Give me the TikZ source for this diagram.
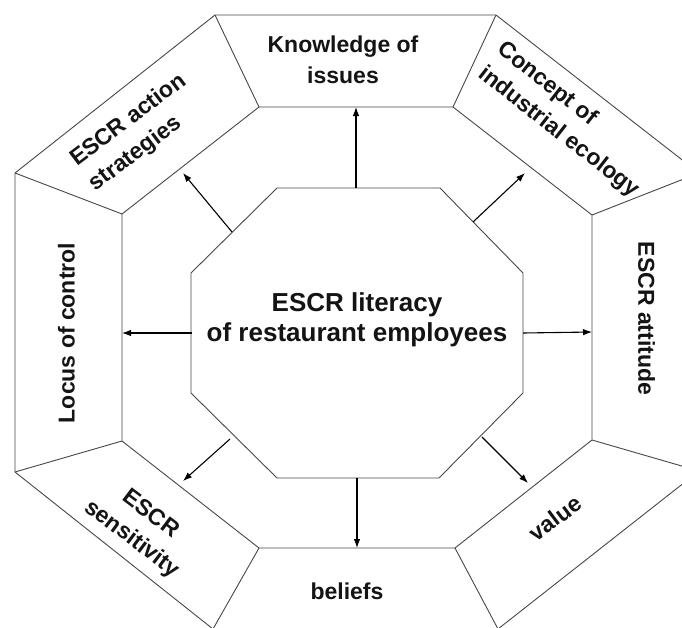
\documentclass[tikz,border=0pt]{standalone}
\usepackage{fontspec}
\setmainfont{Liberation Sans}
\usetikzlibrary{arrows.meta}
\begin{document}
\begin{tikzpicture}[x=1pt,y=-1pt,
  frame/.style={draw=black!72, line width=0.9pt, line join=round},
  conn/.style={draw=black, line width=1.1pt, -{Latex[length=9pt,width=6.5pt]}},
  lbl/.style={font=\bfseries\fontsize{23}{31}\selectfont, text=black!92, inner sep=0pt},
  ctr/.style={font=\bfseries\fontsize{26}{30}\selectfont, text=black!92, inner sep=0pt, align=center}]
\useasboundingbox (0,0) rectangle (682,627);
\fill[white] (0,0) rectangle (682,627);
\clip (0,0) rectangle (682,627);
% outer octagon
\coordinate (O1) at (215,15);
\coordinate (O2) at (496,15);
\coordinate (O3) at (699,173);
\coordinate (O4) at (699,471);
\coordinate (O5) at (498,629);
\coordinate (O6) at (213,629);
\coordinate (O7) at (15,472);
\coordinate (O8) at (15,173);
% middle ring
\coordinate (M1) at (259,107);
\coordinate (M2) at (453,107);
\coordinate (M3) at (592,215);
\coordinate (M4) at (592,440);
\coordinate (M5) at (455,548);
\coordinate (M6) at (259,548);
\coordinate (M7) at (122,441);
\coordinate (M8) at (122,214);
% inner octagon
\coordinate (I1) at (277,188);
\coordinate (I2) at (440,188);
\coordinate (I3) at (523,273);
\coordinate (I4) at (523,393);
\coordinate (I5) at (439,478);
\coordinate (I6) at (277,478);
\coordinate (I7) at (191,393);
\coordinate (I8) at (191,273);
\draw[frame] (O1)--(O2)--(O3)--(O4)--(O5)--(O6)--(O7)--(O8)--cycle;
\draw[frame] (M1)--(M2)--(M3)--(M4)--(M5)--(M6)--(M7)--(M8)--cycle;
\draw[frame] (I1)--(I2)--(I3)--(I4)--(I5)--(I6)--(I7)--(I8)--cycle;
\draw[frame] (M1)--(O1) (M2)--(O2) (M3)--(O3) (M4)--(O4)
             (M5)--(O5) (M6)--(O6) (M7)--(O7) (M8)--(O8);
% labels
\node[ctr] (center) at (357,320) {ESCR literacy\\of restaurant employees};
\node[lbl, align=center] (know) at (343,60) {Knowledge of\\issues};
\node[lbl, align=left, rotate=37] (action) at (138,133) {ESCR action\\strategies};
\node[lbl, align=left, rotate=-38] (concept) at (568,120) {Concept of\\industrial ecology};
\node[lbl, rotate=90] (locus) at (66.5,333) {Locus of control};
\node[lbl, rotate=-90] (attitude) at (646.5,318.5) {ESCR attitude};
\node[lbl, align=center, rotate=-37] (sens) at (141,527) {ESCR\\sensitivity};
\node[lbl, rotate=37] (value) at (555,518) {value};
\node[lbl] (beliefs) at (347,591.6) {beliefs};
% arrow ends
\coordinate (tU) at (356,188);  \coordinate (hU) at (356,107);
\coordinate (tR) at (523,333);  \coordinate (hR) at (592,332);
\coordinate (tL) at (192,333);  \coordinate (hL) at (122,333);
\coordinate (tD) at (357,478);  \coordinate (hD) at (357,548);
\coordinate (tUL) at (232,232); \coordinate (hUL) at (183,173);
\coordinate (tUR) at (473,222); \coordinate (hUR) at (525,173);
\coordinate (tLL) at (230,439); \coordinate (hLL) at (183,481);
\coordinate (tLR) at (482,437); \coordinate (hLR) at (528,483);
\draw[conn] (tU) -- (hU);
\draw[conn] (tR) -- (hR);
\draw[conn] (tL) -- (hL);
\draw[conn] (tD) -- (hD);
\draw[conn] (tUL) -- (hUL);
\draw[conn] (tUR) -- (hUR);
\draw[conn] (tLL) -- (hLL);
\draw[conn] (tLR) -- (hLR);
\end{tikzpicture}
\end{document}
